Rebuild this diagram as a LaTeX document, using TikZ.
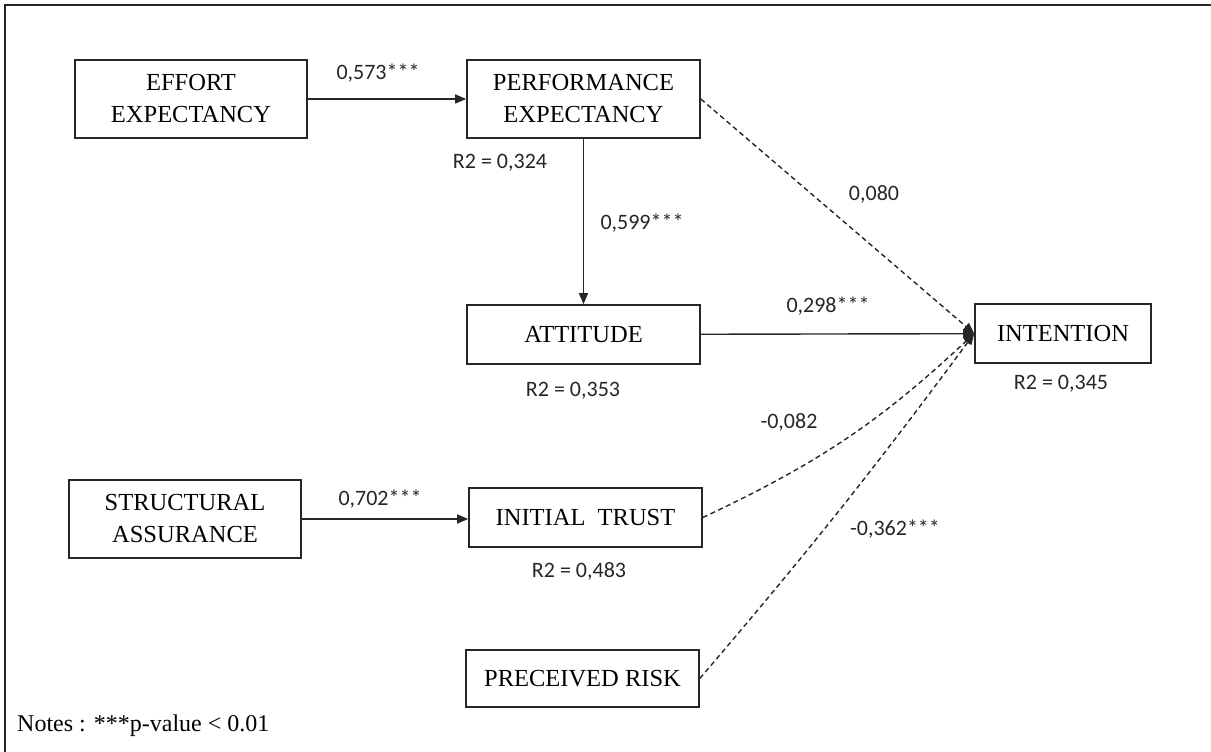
\documentclass[tikz,border=0pt]{standalone}
\usepackage{fontspec}
\setmainfont{Liberation Serif}
\newfontfamily\coeffont{Carlito}
\usetikzlibrary{arrows.meta,calc}

\begin{document}
\begin{tikzpicture}[
                x=1pt, y=-1pt,
                box/.style={rectangle, draw=black!85, line width=1.6pt, align=center,
                    font=\fontsize{24.5}{32}\selectfont, inner sep=0pt},
                wide/.style={box, minimum width=232pt, minimum height=78pt},
                flat/.style={box, minimum width=233pt, minimum height=59pt},
                coef/.style={font=\coeffont\fontsize{22}{24}\selectfont, text=black!85, inner sep=0pt},
                path/.style={line width=1.4pt, draw=black!85, -{Triangle[length=11pt,width=9pt]}},
                weak/.style={path, dashed, dash pattern=on 5pt off 3.5pt}
            ]

\useasboundingbox (0,0) rectangle (1211,752);

% frame
                \draw[line width=1.5pt, black!85] (5,752) -- (5,5) -- (1211,5);

% constructs
                \node[wide] (ee) at (191,99) {EFFORT\\EXPECTANCY};
                \node[wide, minimum width=233pt] (pe) at (583.5,99) {PERFORMANCE\\EXPECTANCY};
                \node[flat] (att) at (583.5,334.5) {ATTITUDE};
                \node[flat, minimum width=176pt] (int) at (1063,333.5) {INTENTION};

                \node[wide] (sa) at (185,519) {STRUCTURAL\\ASSURANCE};
                \node[flat] (it) at (585.5,517.5) {INITIAL\ \ TRUST};
                \node[flat, minimum height=57pt] (pr) at (582.5,678.5) {PRECEIVED RISK};

% paths
                \draw[path] (ee) -- (pe);
                \draw[path] (pe) -- (att);
                \draw[path] (sa.east |- 0,519) -- (it.west |- 0,519);
                \draw[path] (att) -- (int);
                \draw[weak] (pe.east) -- (int.west);
                \draw[weak] (it.east) to[bend right=9] (int.west);
                \draw[weak] (pr.east) to[bend right=2] (int.west);

% coefficients
                \node[coef] (c1) at (378,73) {0,573***};
                \node[coef] (c2) at (642,223) {0,599***};
                \node[coef] (c3) at (874,194) {0,080};
                \node[coef] (c4) at (828,306) {0,298***};
                \node[coef] (c5) at (789,422) {-0,082};
                \node[coef] (c6) at (380,499) {0,702***};
                \node[coef] (c7) at (895,529) {-0,362***};

% r squared
                \node[coef] (r1) at (500,163) {R2 = 0,324};
                \node[coef] (r2) at (573,391) {R2 = 0,353};
                \node[coef] (r3) at (1061,384) {R2 = 0,345};
                \node[coef] (r4) at (579,571) {R2 = 0,483};

% notes
                \node[anchor=west, inner sep=0pt, font=\fontsize{24}{28}\selectfont] (notes) at (17,726) {Notes : ***p-value < 0.01};

\end{tikzpicture}
\end{document}
